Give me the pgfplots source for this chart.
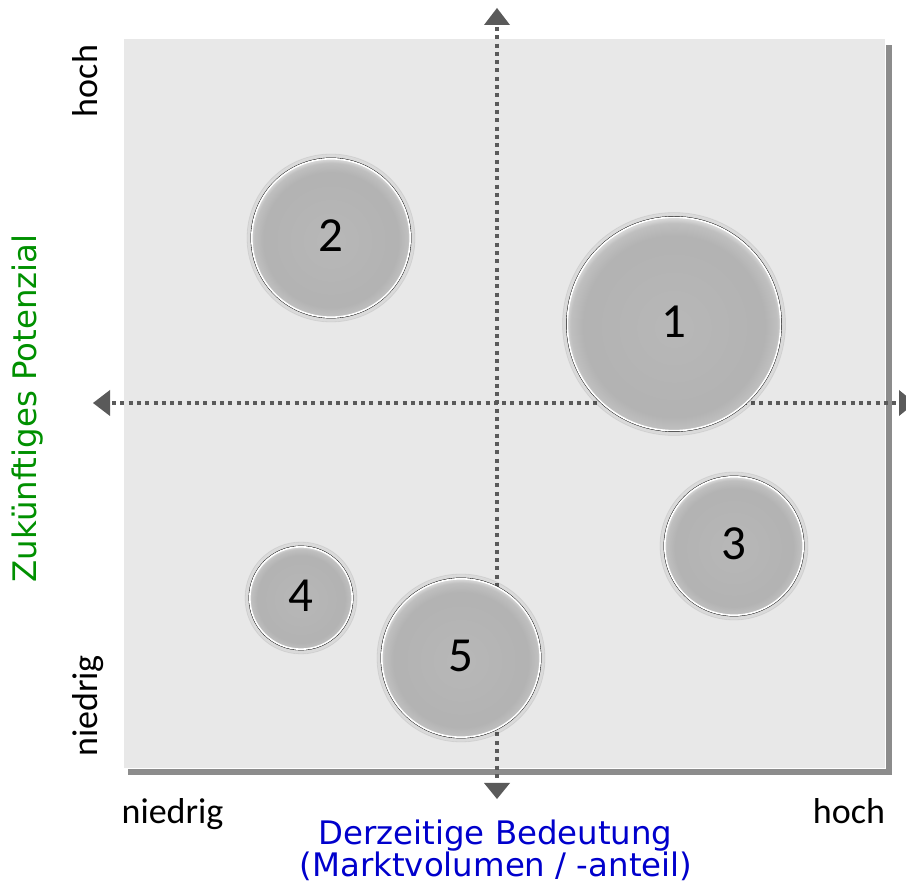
\documentclass[border=0pt]{standalone}
\usepackage{pgfplots}
\pgfplotsset{compat=1.18}
\usepackage{fontspec}
\setmainfont{Carlito}
\newfontfamily\dejavu{DejaVu Sans}
\definecolor{panel}{HTML}{E8E8E8}
\definecolor{shadowc}{HTML}{8C8C8C}
\definecolor{dotc}{HTML}{5A5A5A}
\definecolor{bluet}{HTML}{0000CC}
\definecolor{greent}{HTML}{009000}
\pgfdeclareradialshading{bubble}{\pgfpoint{0bp}{-1bp}}{%
  color(0bp)=(black!28);
  color(21bp)=(black!30);
  color(24bp)=(black!25);
  color(25bp)=(black!16);
  color(50bp)=(black!16)}
\pgfplotstableread{
x y r label
674 324 107.5 1
331 238 80 2
734 546 70 3
301 598 52 4
461 658 80 5
}\bubbles
\begin{document}
\begin{tikzpicture}
\begin{axis}[x=0.5pt, y=0.5pt, y dir=reverse,
  xmin=0, xmax=906, ymin=0, ymax=887,
  hide axis, clip=false, scale only axis]
\coordinate (BL) at (axis cs:0,887);
\coordinate (TR) at (axis cs:906,0);
% shadow and panel
\fill[shadowc] (axis cs:128,45) rectangle (axis cs:892,775);
\fill[white] (axis cs:123,38) rectangle (axis cs:886,769);
\fill[panel] (axis cs:124,39) rectangle (axis cs:885,768);
% horizontal dotted arrow (under bubbles)
\draw[dotc, line width=2pt, dash pattern=on 2pt off 2.15pt] (axis cs:112,403) -- (axis cs:898,403);
\fill[dotc] (axis cs:93,403) -- (axis cs:110,390) -- (axis cs:110,416) -- cycle;
\fill[dotc] (axis cs:915,403) -- (axis cs:899,390) -- (axis cs:899,416) -- cycle;
% bubbles
\addplot[scatter, only marks, mark=text, text mark={},
  visualization depends on={\thisrow{r} \as \rad},
  scatter/@pre marker code/.code={
    \fill[black, opacity=0.06] (0,0) circle [radius=\rad*0.5pt+2pt];
    \shade[shading=bubble] (0,0) circle [radius=\rad*0.5pt];
    \draw[white, line width=0.8pt] (0,0) circle [radius=\rad*0.5pt-0.4pt];
  },
  scatter/@post marker code/.code={}
] table[x=x, y=y] {\bubbles};
\addplot[only marks, mark=none, nodes near coords, point meta=explicit symbolic,
  nodes near coords style={anchor=center, font=\fontsize{24.5pt}{28pt}\selectfont, text=black, yshift=1pt}]
  table[x=x, y=y, meta=label] {\bubbles};
% vertical dotted arrow (over bubbles)
\draw[dotc, line width=2pt, dash pattern=on 2pt off 2.15pt] (axis cs:497,27) -- (axis cs:497,782);
\fill[dotc] (axis cs:497,8) -- (axis cs:484,25) -- (axis cs:510,25) -- cycle;
\fill[dotc] (axis cs:497,799) -- (axis cs:484,783) -- (axis cs:510,783) -- cycle;
% labels
\node[rotate=90, anchor=base, inner sep=0pt, font=\fontsize{18pt}{21pt}\selectfont] at (axis cs:97,81) {hoch};
\node[rotate=90, anchor=base, inner sep=0pt, font=\fontsize{18pt}{21pt}\selectfont] at (axis cs:97,706) {niedrig};
\node[anchor=base, inner sep=0pt, font=\fontsize{18pt}{21pt}\selectfont] at (axis cs:172.5,823) {niedrig};
\node[anchor=base, inner sep=0pt, font=\fontsize{18pt}{21pt}\selectfont] at (axis cs:849,823) {hoch};
\node[rotate=90, anchor=base, inner sep=0pt, text=greent, font=\dejavu\fontsize{16.2pt}{19pt}\selectfont] at (axis cs:36,408.5) {Zukünftiges Potenzial};
\node[anchor=base, inner sep=0pt, text=bluet, font=\dejavu\fontsize{16.2pt}{19pt}\selectfont] at (axis cs:495.5,844) {Derzeitige Bedeutung};
\node[anchor=base, inner sep=0pt, text=bluet, font=\dejavu\fontsize{16.2pt}{19pt}\selectfont] at (axis cs:496,877) {(Marktvolumen / -anteil)};
\end{axis}
\pgfresetboundingbox
\useasboundingbox (BL) rectangle (TR);
\end{tikzpicture}
\end{document}
